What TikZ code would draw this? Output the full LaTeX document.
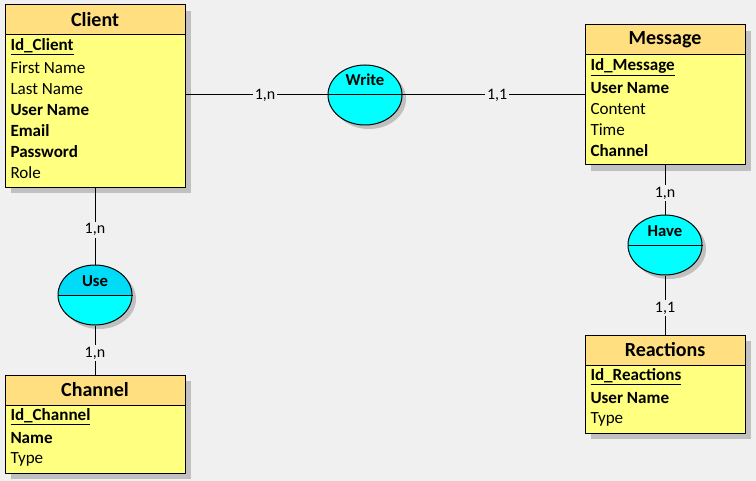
\documentclass[tikz,border=0pt]{standalone}
\usepackage{fontspec}
\setmainfont{Carlito}
\usetikzlibrary{fit,shapes.geometric,shadows}
\definecolor{bgray}{HTML}{F0F0F0}
\definecolor{headyellow}{HTML}{FFDF80}
\definecolor{bodyyellow}{HTML}{FFFF80}
\definecolor{relcyan}{HTML}{00FFFF}
\definecolor{usecyan}{HTML}{00DCF8}
\definecolor{shadowgray}{HTML}{C0C0C0}
\tikzset{
	entity/.style={draw,fill=bodyyellow,inner sep=0pt,line width=0.75pt,
		drop shadow={shadow xshift=4.5pt,shadow yshift=-4.5pt,fill=shadowgray,opacity=1}},
	head/.style={draw,fill=headyellow,inner sep=0pt,line width=0.75pt},
	title/.style={inner sep=0pt,font=\fontsize{15}{15}\selectfont\bfseries},
	reltitle/.style={inner sep=0pt,font=\fontsize{12.5}{12.5}\selectfont\bfseries},
	attr/.style={anchor=west,inner sep=0pt,font=\fontsize{12.8}{12.8}\selectfont},
	attrb/.style={anchor=west,inner sep=0pt,font=\fontsize{12.8}{12.8}\selectfont\bfseries},
	relation/.style={ellipse,draw,fill=relcyan,inner sep=0pt,line width=0.75pt,
		minimum width=55.5pt,minimum height=45pt,
		drop shadow={shadow xshift=3pt,shadow yshift=-3pt,fill=shadowgray,opacity=1}},
	card/.style={fill=bgray,inner sep=1.5pt,font=\fontsize{12}{12}\selectfont},
}
\begin{document}
\begin{tikzpicture}[x=0.75pt,y=-0.75pt,line join=round,line width=0.75pt]
	\useasboundingbox (0,0) rectangle (756,481);
	\fill[bgray] (0,0) rectangle (756,481);
	% entities
	\node[entity,fit={(5,5) (185,187)}] (client) {};
	\node[head,fit={(5,5) (185,35)}] (clienth) {};
	\node[title] (clientt) at (95,20) {Client};
	\node[attrb] (cl1) at (10,47) {\underline{Id\_Client}};
	\node[attr] (cl2) at (10,68) {First Name};
	\node[attr] (cl3) at (10,89) {Last Name};
	\node[attrb] (cl4) at (10,110) {User Name};
	\node[attrb] (cl5) at (10,131) {Email};
	\node[attrb] (cl6) at (10,152) {Password};
	\node[attr] (cl7) at (10,173) {Role};
	
	\node[entity,fit={(585,25) (745,165)}] (message) {};
	\node[head,fit={(585,25) (745,55)}] (messageh) {};
	\node[title] (messaget) at (665,40) {Message};
	\node[attrb] (ms1) at (590,67) {\underline{Id\_Message}};
	\node[attrb] (ms2) at (590,88) {User Name};
	\node[attr] (ms3) at (590,109) {Content};
	\node[attr] (ms4) at (590,130) {Time};
	\node[attrb] (ms5) at (590,151) {Channel};
	
	\node[entity,fit={(5,375) (185,473)}] (channel) {};
	\node[head,fit={(5,375) (185,405)}] (channelh) {};
	\node[title] (channelt) at (95,390) {Channel};
	\node[attrb] (ch1) at (10,417) {\underline{Id\_Channel}};
	\node[attrb] (ch2) at (10,438) {Name};
	\node[attr] (ch3) at (10,459) {Type};
	
	\node[entity,fit={(585,335) (745,433)}] (reactions) {};
	\node[head,fit={(585,335) (745,365)}] (reactionsh) {};
	\node[title] (reactionst) at (665,350) {Reactions};
	\node[attrb] (re1) at (590,377) {\underline{Id\_Reactions}};
	\node[attrb] (re2) at (590,398) {User Name};
	\node[attr] (re3) at (590,419) {Type};
	% relations
	\node[relation] (write) at (365,95) {};
	\node[relation,path picture={\fill[usecyan] (path picture bounding box.north west) rectangle (path picture bounding box.east);}] (use) at (95,295) {};
	\node[relation] (have) at (665,245) {};
	\draw (write.west)--(write.east) (use.west)--(use.east) (have.west)--(have.east);
	\node[reltitle] (writet) at (365,80) {Write};
	\node[reltitle] (uset) at (95,281) {Use};
	\node[reltitle] (havet) at (665,231) {Have};
	% links
	\draw (client.east |- write.west)--(write.west) node[card,pos=0.56] (c1) {1,n};
	\draw (write.east)--(message.west |- write.east) node[card,pos=0.52] (c2) {1,1};
	\draw (client.south)--(use.north) node[card,pos=0.55] (c3) {1,n};
	\draw (use.south)--(channel.north) node[card,pos=0.56] (c4) {1,n};
	\draw (message.south)--(have.north) node[card,pos=0.56] (c5) {1,n};
	\draw (have.south)--(reactions.north) node[card,pos=0.55] (c6) {1,1};
\end{tikzpicture}
\end{document}
